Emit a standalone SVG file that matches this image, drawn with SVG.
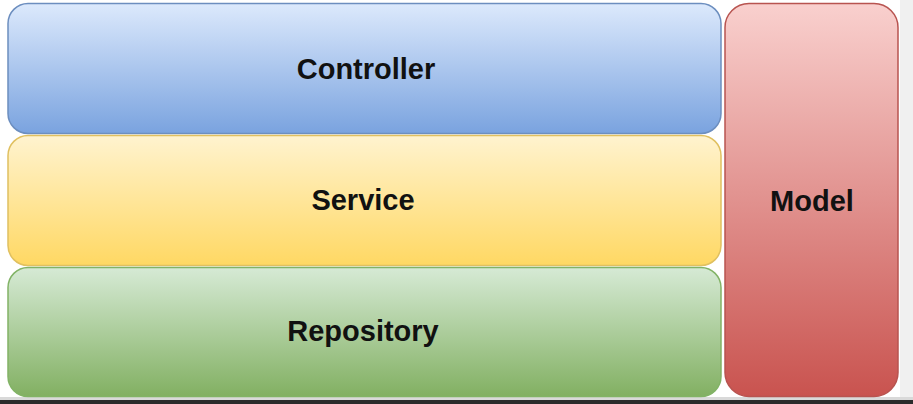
<svg xmlns="http://www.w3.org/2000/svg" width="913" height="404" viewBox="0 0 913 404">
<defs>
<linearGradient id="gBlue" x1="0" y1="0" x2="0" y2="1"><stop offset="0" stop-color="#dce9fc"/><stop offset="1" stop-color="#7aa3df"/></linearGradient>
<linearGradient id="gYellow" x1="0" y1="0" x2="0" y2="1"><stop offset="0" stop-color="#fff3cf"/><stop offset="1" stop-color="#ffd863"/></linearGradient>
<linearGradient id="gGreen" x1="0" y1="0" x2="0" y2="1"><stop offset="0" stop-color="#d6ead5"/><stop offset="1" stop-color="#82b062"/></linearGradient>
<linearGradient id="gRed" x1="0" y1="0" x2="0" y2="1"><stop offset="0" stop-color="#f9d0ce"/><stop offset="1" stop-color="#c9534f"/></linearGradient>
</defs>
<style>
.lbl{font-family:"Liberation Sans",Arial,sans-serif;font-weight:bold;font-size:29px;fill:#111;text-anchor:middle}
.box{stroke-width:1.5}
</style>
<rect x="0" y="0" width="913" height="404" fill="#ffffff"/>
<rect x="900" y="0" width="13" height="400" fill="#f0f0f0"/>
<rect x="0" y="397" width="913" height="3" fill="#d9d9d9"/>
<rect x="0" y="400" width="913" height="4" fill="#2b2b2b"/>
<g id="controller">
<rect class="box" x="8" y="3.5" width="713" height="130" rx="20" fill="url(#gBlue)" stroke="#6c8ebf"/>
<text class="lbl" x="366" y="79">Controller</text>
</g>
<g id="service">
<rect class="box" x="8" y="135.5" width="713" height="130" rx="20" fill="url(#gYellow)" stroke="#e0c060"/>
<text class="lbl" x="363" y="210">Service</text>
</g>
<g id="repository">
<rect class="box" x="8" y="267.5" width="713" height="129" rx="20" fill="url(#gGreen)" stroke="#82b366"/>
<text class="lbl" x="363" y="341">Repository</text>
</g>
<g id="model">
<rect class="box" x="725" y="3.5" width="173" height="393" rx="24" fill="url(#gRed)" stroke="#b85450"/>
<text class="lbl" x="812" y="211">Model</text>
</g>
<g id="connectors"/>
</svg>
